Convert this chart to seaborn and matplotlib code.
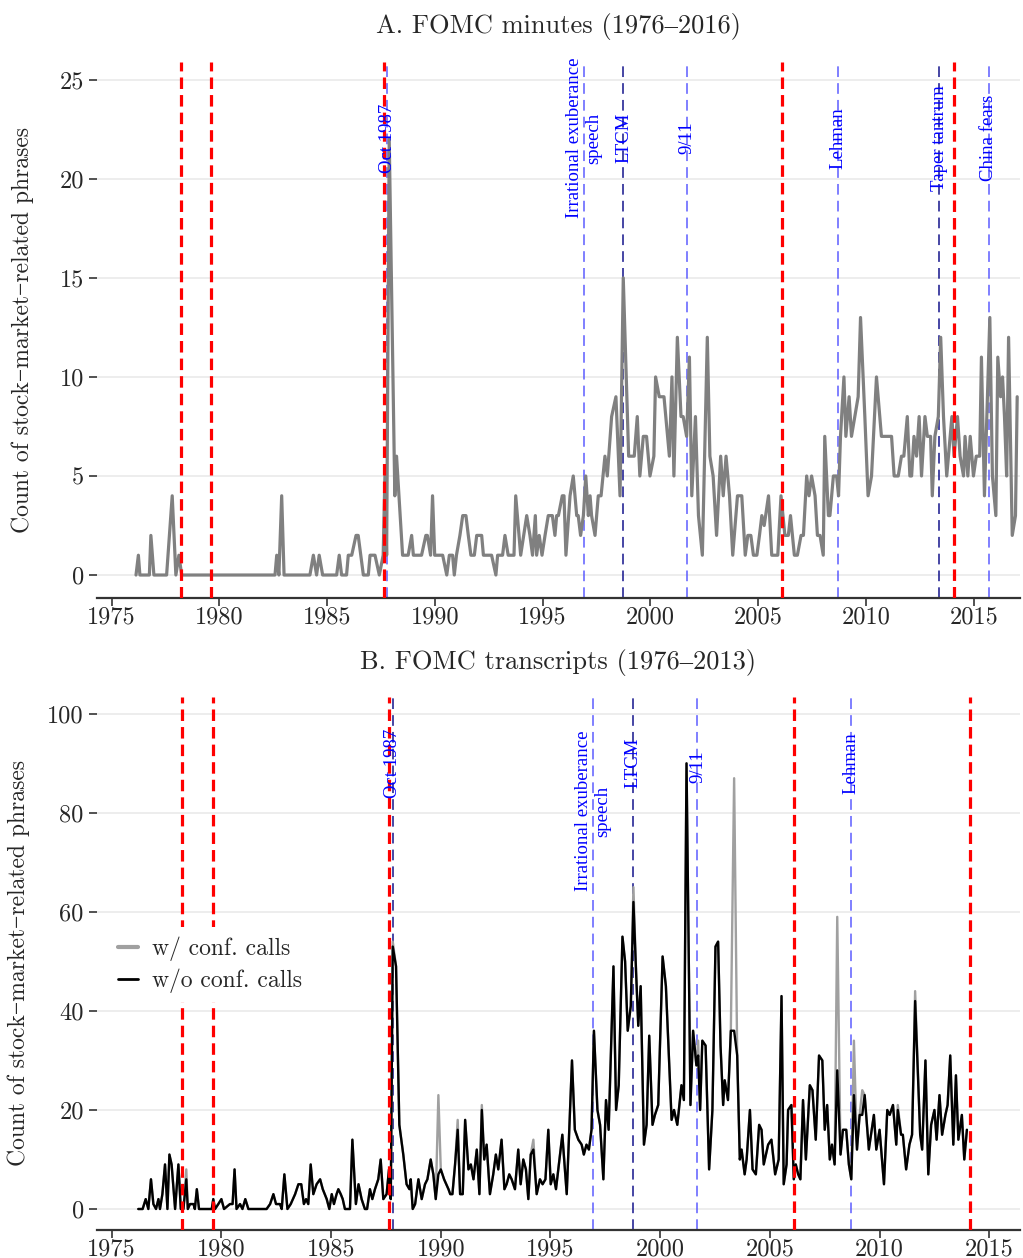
import matplotlib
matplotlib.use("Agg")
import matplotlib.pyplot as plt
import matplotlib.transforms as mtransforms
import seaborn as sns
import pandas as pd

# ---------------- data ----------------
# Panel A: FOMC minutes (decimal year, count)
minutes_dates = [
    1976.13, 1976.24, 1976.31, 1976.75, 1976.82, 1976.96, 1977.55, 1977.81, 1977.98, 1978.12,
    1978.25, 1982.58, 1982.66, 1982.76, 1982.89, 1983.0, 1984.2, 1984.36, 1984.51, 1984.63,
    1984.79, 1985.44, 1985.56, 1985.67, 1985.9, 1985.98, 1986.14, 1986.34, 1986.44, 1986.68,
    1986.91, 1986.99, 1987.22, 1987.42, 1987.6, 1987.68, 1987.76, 1987.88, 1988.14, 1988.22,
    1988.5, 1988.76, 1988.92, 1989.0, 1989.38, 1989.58, 1989.65, 1989.8, 1989.89, 1989.99,
    1990.36, 1990.55, 1990.67, 1990.82, 1990.9, 1991.0, 1991.16, 1991.29, 1991.44, 1991.55,
    1991.67, 1991.83, 1991.94, 1992.17, 1992.25, 1992.63, 1992.83, 1992.91, 1993.14, 1993.25,
    1993.4, 1993.67, 1993.75, 1993.98, 1994.26, 1994.41, 1994.53, 1994.66, 1994.72, 1994.84,
    1994.97, 1995.11, 1995.26, 1995.45, 1995.57, 1995.65, 1995.73, 1995.91, 1995.99, 1996.08,
    1996.27, 1996.42, 1996.58, 1996.65, 1996.76, 1996.89, 1997.0, 1997.12, 1997.2, 1997.27,
    1997.43, 1997.58, 1997.71, 1997.89, 1998.0, 1998.2, 1998.4, 1998.59, 1998.74, 1998.99,
    1999.25, 1999.39, 1999.51, 1999.67, 1999.82, 1999.98, 2000.16, 2000.24, 2000.41, 2000.63,
    2000.88, 2001.0, 2001.09, 2001.25, 2001.42, 2001.52, 2001.68, 2001.81, 2001.92, 2002.09,
    2002.23, 2002.41, 2002.64, 2002.76, 2002.91, 2003.07, 2003.26, 2003.38, 2003.51, 2003.67,
    2003.82, 2004.04, 2004.24, 2004.4, 2004.52, 2004.66, 2004.78, 2004.94, 2005.06, 2005.17,
    2005.28, 2005.48, 2005.63, 2005.91, 2006.06, 2006.24, 2006.4, 2006.5, 2006.68, 2006.82,
    2006.99, 2007.1, 2007.25, 2007.36, 2007.48, 2007.64, 2007.75, 2007.87, 2008.02, 2008.09,
    2008.26, 2008.33, 2008.49, 2008.64, 2008.73, 2008.82, 2008.98, 2009.07, 2009.22, 2009.33,
    2009.64, 2009.75, 2009.95, 2010.1, 2010.26, 2010.49, 2010.72, 2011.19, 2011.31, 2011.5,
    2011.65, 2011.76, 2011.92, 2012.04, 2012.12, 2012.23, 2012.35, 2012.47, 2012.58, 2012.74,
    2012.85, 2013.0, 2013.08, 2013.2, 2013.36, 2013.47, 2013.6, 2013.75, 2013.99, 2014.09,
    2014.25, 2014.37, 2014.53, 2014.6, 2014.73, 2014.84, 2014.99, 2015.12, 2015.28, 2015.36,
    2015.5, 2015.75, 2015.87, 2016.03, 2016.12, 2016.25, 2016.34, 2016.43, 2016.53, 2016.62,
    2016.79, 2016.94, 2017.02,
]
minutes_counts = [
    0, 1, 0, 0, 2, 0, 0, 4, 0, 1,
    0, 0, 1, 0, 4, 0, 0, 1, 0, 1,
    0, 0, 1, 0, 0, 1, 1, 2, 2, 0,
    0, 1, 1, 0, 1, 5, 1, 22, 4, 6,
    1, 1, 2, 1, 1, 2, 2, 1, 4, 1,
    1, 0, 1, 1, 0, 1, 2, 3, 3, 2,
    1, 1, 2, 2, 1, 1, 0, 1, 1, 2,
    1, 1, 4, 1, 3, 2, 1, 3, 1, 2,
    1, 2, 3, 3, 2, 3, 3, 4, 4, 1,
    4, 5, 3, 3, 2, 3, 5, 3, 4, 3,
    2, 4, 4, 6, 5, 8, 9, 4, 15, 6,
    6, 8, 5, 7, 7, 5, 6, 10, 9, 9,
    6, 10, 5, 12, 8, 8, 7, 11, 4, 8,
    3, 1, 12, 6, 5, 2, 6, 4, 6, 4,
    1, 4, 4, 1, 2, 2, 1, 1, 2, 3,
    2.5, 4, 1, 1, 4, 2, 2, 3, 1, 1,
    2, 2, 5, 4, 5, 4, 2, 2, 1, 7,
    3, 3, 5, 5, 4, 7, 10, 7, 9, 7,
    9, 13, 8, 4, 5, 10, 7, 7, 5, 5,
    6, 6, 8, 5, 5, 7, 6, 8, 5, 8,
    7, 7, 4, 7, 8, 12, 8, 5, 8, 6,
    8, 6, 5, 7, 5, 7, 5, 6, 6, 11,
    4, 13, 5, 3, 11, 9, 10, 8, 5, 12,
    2, 3, 9,
]

# Panel B: FOMC transcripts, without conference calls
transcript_dates = [
    1976.21, 1976.41, 1976.55, 1976.67, 1976.79, 1976.9, 1977.02, 1977.13, 1977.2, 1977.31,
    1977.43, 1977.54, 1977.63, 1977.73, 1977.89, 1978.04, 1978.15, 1978.27, 1978.4, 1978.47,
    1978.57, 1978.73, 1978.79, 1978.88, 1978.98, 1979.56, 1979.63, 1979.71, 1979.86, 1980.0,
    1980.12, 1980.39, 1980.51, 1980.6, 1980.69, 1980.85, 1980.96, 1981.09, 1981.23, 1982.06,
    1982.22, 1982.37, 1982.49, 1982.67, 1982.75, 1982.87, 1983.01, 1983.16, 1983.36, 1983.51,
    1983.64, 1983.76, 1983.86, 1983.96, 1984.07, 1984.19, 1984.34, 1984.5, 1984.62, 1984.8,
    1984.92, 1985.03, 1985.13, 1985.25, 1985.33, 1985.44, 1985.53, 1985.63, 1985.86, 1985.97,
    1986.13, 1986.25, 1986.39, 1986.54, 1986.64, 1986.77, 1986.88, 1987.0, 1987.15, 1987.26,
    1987.38, 1987.53, 1987.64, 1987.72, 1987.81, 1987.96, 1988.11, 1988.29, 1988.44, 1988.57,
    1988.63, 1988.72, 1988.83, 1988.98, 1989.13, 1989.28, 1989.39, 1989.54, 1989.66, 1989.77,
    1989.89, 1990.0, 1990.15, 1990.35, 1990.43, 1990.53, 1990.65, 1990.77, 1990.88, 1991.0,
    1991.11, 1991.26, 1991.37, 1991.49, 1991.64, 1991.76, 1991.87, 1991.98, 1992.09, 1992.24,
    1992.39, 1992.51, 1992.62, 1992.77, 1992.9, 1993.0, 1993.12, 1993.23, 1993.38, 1993.53,
    1993.64, 1993.76, 1993.88, 1993.99, 1994.1, 1994.22, 1994.37, 1994.52, 1994.64, 1994.77,
    1994.9, 1995.01, 1995.13, 1995.25, 1995.54, 1995.74, 1995.98, 1996.11, 1996.27, 1996.42,
    1996.52, 1996.64, 1996.75, 1996.87, 1996.98, 1997.14, 1997.26, 1997.41, 1997.53, 1997.65,
    1997.87, 1997.99, 1998.11, 1998.28, 1998.4, 1998.52, 1998.66, 1998.78, 1998.9, 1999.0,
    1999.11, 1999.26, 1999.38, 1999.5, 1999.65, 1999.76, 1999.91, 2000.11, 2000.26, 2000.52,
    2000.63, 2000.78, 2000.97, 2001.08, 2001.2, 2001.38, 2001.5, 2001.65, 2001.73, 2001.82,
    2001.92, 2002.07, 2002.23, 2002.38, 2002.52, 2002.64, 2002.75, 2002.87, 2002.94, 2003.09,
    2003.22, 2003.37, 2003.51, 2003.63, 2003.71, 2003.85, 2003.94, 2004.09, 2004.21, 2004.36,
    2004.51, 2004.62, 2004.72, 2004.92, 2005.07, 2005.24, 2005.4, 2005.53, 2005.63, 2005.76,
    2005.83, 2005.98, 2006.09, 2006.18, 2006.29, 2006.39, 2006.51, 2006.64, 2006.82, 2006.94,
    2007.09, 2007.24, 2007.39, 2007.5, 2007.61, 2007.73, 2007.83, 2007.95, 2008.07, 2008.22,
    2008.33, 2008.48, 2008.6, 2008.71, 2008.83, 2008.97, 2009.09, 2009.21, 2009.32, 2009.51,
    2009.74, 2009.85, 2010.0, 2010.2, 2010.35, 2010.46, 2010.61, 2010.76, 2010.83, 2010.98,
    2011.06, 2011.21, 2011.36, 2011.48, 2011.62, 2011.85, 2011.94, 2012.09, 2012.22, 2012.35,
    2012.5, 2012.6, 2012.73, 2012.85, 2013.0, 2013.1, 2013.22, 2013.36, 2013.48, 2013.59,
    2013.75, 2013.86, 2013.98,
]
transcript_counts = [
    0, 0, 2, 0, 6, 1, 0, 2, 0, 3,
    9, 0, 11, 9, 0, 9, 0, 0, 6, 0,
    1, 1, 0, 4, 0, 0, 2, 0, 1, 2,
    0, 1, 1, 8, 0, 1, 0, 2, 0, 0,
    1, 3, 1, 1, 0, 7, 0, 1, 3, 5,
    5, 1, 2, 1, 9, 3, 5, 6, 4, 2,
    0, 3, 1, 3, 4, 3, 2, 0, 0, 14,
    1, 5, 2, 0, 0, 4, 2, 4, 6, 10,
    2, 3, 8, 2, 53, 49, 17, 11, 5, 4,
    6, 0, 1, 6, 2, 5, 6, 10, 7, 2,
    7, 8, 6, 4, 3, 3, 9, 16, 3, 3,
    18, 8, 9, 6, 12, 3, 20, 10, 13, 3,
    7, 11, 8, 14, 4, 5, 7, 6, 4, 12,
    5, 10, 8, 2, 11, 12, 3, 6, 5, 6,
    16, 5, 7, 4, 15, 3, 30, 16, 14, 13,
    11, 13, 12, 16, 36, 20, 17, 6, 22, 16,
    49, 20, 25, 55, 50, 36, 41, 62, 48, 37,
    45, 13, 17, 35, 17, 19, 21, 51, 45, 18,
    20, 17, 25, 22, 90, 21, 36, 29, 31, 20,
    34, 33, 8, 20, 53, 54, 33, 21, 26, 22,
    36, 36, 31, 10, 12, 7, 10, 20, 8, 7,
    17, 16, 9, 13, 14, 7, 10, 43, 5, 9,
    20, 21, 6, 9, 7, 6, 22, 10, 25, 24,
    14, 31, 30, 16, 21, 10, 13, 9, 28, 11,
    16, 16, 9, 6, 23, 12, 19, 19, 23, 12,
    19, 12, 16, 5, 20, 19, 21, 13, 20, 15,
    15, 8, 13, 15, 42, 15, 12, 30, 7, 17,
    20, 14, 23, 15, 19, 21, 31, 13, 27, 14,
    19, 10, 16,
]
# Meetings where conference-call mentions raise the count
conf_call_dates = [1978.4, 1987.81, 1989.89, 1990.77, 1991.87, 1994.22, 1998.78,
                   2001.73, 2003.37, 2008.07, 2008.83, 2009.21, 2010.83, 2011.62]
conf_call_counts = [8, 54, 23, 18, 21, 14, 65, 34, 87, 59, 34, 24, 21, 44]

# Fed chair changes (red) and stock-market events (blue)
chair_dates = [1978.2, 1979.6, 1987.62, 2006.1, 2014.1]
event_dates_a = [1987.8, 1996.93, 1998.75, 2001.7, 2008.71, 2013.4, 2015.7]
event_labels_a = ["Oct 1987", "Irrational exuberance\nspeech", "LTCM", "9/11",
                  "Lehman", "Taper tantrum", "China fears"]
event_dates_b = [1987.8, 1996.93, 1998.75, 2001.7, 2008.71]
event_labels_b = ["Oct 1987", "Irrational exuberance\nspeech", "LTCM", "9/11", "Lehman"]
year_ticks = [1975, 1980, 1985, 1990, 1995, 2000, 2005, 2010, 2015]

# ---------------- style ----------------
sns.set_style("white")
plt.rcParams["font.family"] = ["cmr10", "Liberation Serif", "DejaVu Serif"]
plt.rcParams["axes.formatter.use_mathtext"] = True
plt.rcParams["mathtext.fontset"] = "cm"

W, H = 1023, 1258
fig = plt.figure(figsize=(W / 100, H / 100), dpi=100)

def ax_rect(l, t, r, b):
    return [l / W, 1 - b / H, (r - l) / W, (b - t) / H]

axA = fig.add_axes(ax_rect(97, 62, 1020, 598))
axB = fig.add_axes(ax_rect(97, 697, 1020, 1230))

dfA = pd.DataFrame({"date": minutes_dates, "count": minutes_counts})
conf_map = dict(zip(conf_call_dates, conf_call_counts))
dfB = pd.DataFrame({"date": transcript_dates, "w/o conf. calls": transcript_counts})
dfB["w/ conf. calls"] = [conf_map.get(d, v) for d, v in zip(transcript_dates, transcript_counts)]

LABEL_FS = 17
TICK_FS = 17.5
TITLE_FS = 19
ANN_FS = 13.5
light_blue = "#5c5cff"
dark_blue = "#14148c"

def style_axis(ax, xlim, ylim, yticks):
    ax.set_xlim(*xlim)
    ax.set_ylim(*ylim)
    ax.set_xticks(year_ticks, labels=[str(t) for t in year_ticks])
    ax.set_yticks(yticks, labels=[str(t) for t in yticks])
    ax.tick_params(axis="both", which="major", labelsize=TICK_FS, length=5.5, width=1.1,
                   color="#222222", direction="out", bottom=True, left=True)
    ax.tick_params(axis="x", pad=0.5)
    ax.tick_params(axis="y", pad=4)
    ax.yaxis.grid(True, color="#ececec", lw=1.3)
    ax.xaxis.grid(False)
    ax.set_axisbelow(True)
    for s in ["top", "right", "left"]:
        ax.spines[s].set_visible(False)
    ax.spines["bottom"].set_color("#333333")
    ax.spines["bottom"].set_linewidth(1.6)
    ax.set_xlabel("")
    ax.set_ylabel("Count of stock\u2212market\u2212related phrases", fontsize=LABEL_FS)

def draw_events(ax, dates, labels, ypos, dark):
    trans = mtransforms.blended_transform_factory(ax.transData, ax.transAxes)
    for d, lab, yp in zip(dates, labels, ypos):
        col = dark_blue if lab in dark else light_blue
        ln = ax.axvline(d, color=col, lw=1.1, zorder=1)
        ln.set_dashes((7, 4))
        ax.text(d, yp, lab, transform=trans, rotation=90, ha="center", va="center",
                multialignment="center", color="#0000ff", fontsize=ANN_FS,
                family=["Liberation Serif", "DejaVu Serif"], zorder=5)

def draw_chairs(ax):
    for d in chair_dates:
        ln = ax.axvline(d, color="#ff0000", lw=2.3, zorder=3)
        ln.set_dashes((3.6, 1.9))

# ---- Panel A ----
draw_events(axA, event_dates_a, event_labels_a, [0.858] * 7, {"LTCM", "Taper tantrum"})
sns.lineplot(data=dfA, x="date", y="count", ax=axA, color="#808080", lw=2.3,
             estimator=None, sort=False, zorder=2)
draw_chairs(axA)
style_axis(axA, (1974.32, 2017.15), (-1.16, 25.9), [0, 5, 10, 15, 20, 25])
axA.set_title("A. FOMC minutes (1976\u20132016)", fontsize=TITLE_FS, pad=21)

# ---- Panel B ----
draw_events(axB, event_dates_b, event_labels_b, [0.876, 0.786, 0.876, 0.87, 0.876],
            {"LTCM", "Oct 1987"})
longB = dfB.melt(id_vars="date", value_vars=["w/ conf. calls", "w/o conf. calls"],
                 var_name="series", value_name="count")
sns.lineplot(data=longB, x="date", y="count", hue="series", ax=axB,
             palette={"w/ conf. calls": "#a0a0a0", "w/o conf. calls": "#000000"},
             lw=1.7, estimator=None, sort=False, zorder=2)
draw_chairs(axB)
style_axis(axB, (1974.33, 2016.4), (-4.24, 103.4), [0, 20, 40, 60, 80, 100])
axB.set_title("B. FOMC transcripts (1976\u20132013)", fontsize=TITLE_FS, pad=20)

handles, labels = axB.get_legend_handles_labels()
handles[0].set_linewidth(3.0)
handles[1].set_linewidth(2.0)
leg = axB.legend(handles, labels, loc="upper left", bbox_to_anchor=(0.0, 0.59),
                 fontsize=LABEL_FS, frameon=True, facecolor="white", edgecolor="none",
                 framealpha=1.0, handlelength=0.85, handletextpad=0.6, borderpad=0.4,
                 labelspacing=0.3, fancybox=False)
leg.set_zorder(10)

axA.yaxis.set_label_coords(-0.068, 0.5)
axB.yaxis.set_label_coords(-0.073, 0.5)

fig.savefig("out.png", dpi=100)
